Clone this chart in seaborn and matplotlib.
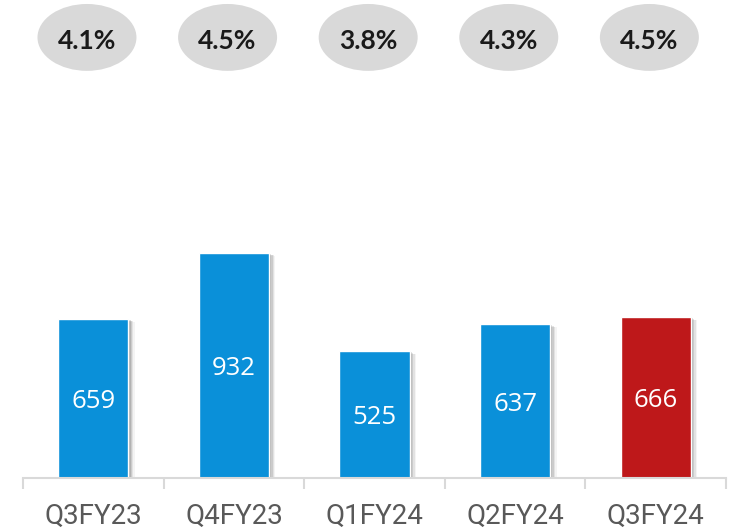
import matplotlib
matplotlib.use("Agg")
import matplotlib.pyplot as plt
import matplotlib.patheffects as pe
from matplotlib.patches import Ellipse
import seaborn as sns
import pandas as pd

quarters = ["Q3FY23", "Q4FY23", "Q1FY24", "Q2FY24", "Q3FY24"]
values = [659, 932, 525, 637, 666]
pct_labels = ["4.1%", "4.5%", "3.8%", "4.3%", "4.5%"]
bar_colors = ["#0a90d9", "#0a90d9", "#0a90d9", "#0a90d9", "#be181a"]

df = pd.DataFrame({"quarter": quarters, "value": values})

sns.set_style("white")
fig = plt.figure(figsize=(7.35, 5.32), dpi=100)
ax = fig.add_axes([23 / 735, 54 / 532, 703 / 735, 478 / 532])

sns.barplot(data=df, x="quarter", y="value", hue="quarter",
            palette=bar_colors, legend=False, width=0.5, saturation=1, ax=ax)

# soft drop shadow on the bars
shadow = [pe.SimplePatchShadow(offset=(o, -o * 0.5), shadow_rgbFace="#444444", alpha=a)
          for o, a in [(4.5, 0.06), (3.5, 0.1), (2.5, 0.14), (1.5, 0.18)]] + [pe.Normal()]
for bar in ax.patches:
    bar.set_path_effects(shadow)

ax.set_xlim(-0.5, 4.5)
ax.set_ylim(0, 1980)

# values inside bars
for i, v in enumerate(values):
    ax.text(i, v / 2, str(v), ha="center", va="center_baseline", color="white",
            fontsize=18.5, family="Open Sans")

# grey ellipses with percentages at the top
for i, p in enumerate(pct_labels):
    ax.add_patch(Ellipse((i - 0.045, 1825), 0.704, 277, facecolor="#d9d9d9",
                         edgecolor="none", zorder=3, clip_on=False))
    ax.text(i - 0.045, 1810, p, ha="center", va="center", color="#1a1a1a",
            fontsize=19, fontweight="bold", family="Lato", zorder=4)

for s in ["top", "left", "right"]:
    ax.spines[s].set_visible(False)
ax.spines["bottom"].set_color("#d9d9d9")
ax.spines["bottom"].set_linewidth(1.5)

ax.set_yticks([])
ax.set_xticks(range(len(quarters)))
ax.set_xticklabels(quarters, color="#595959", fontsize=20, family="Roboto")
ax.set_xticks([i - 0.5 for i in range(len(quarters) + 1)], minor=True)
ax.tick_params(axis="x", which="major", length=0, pad=18)
ax.tick_params(axis="x", which="minor", bottom=True, length=8, width=1.5,
               color="#d9d9d9")
ax.set_xlabel("")
ax.set_ylabel("")

fig.savefig("out.png", dpi=100, facecolor="white")
